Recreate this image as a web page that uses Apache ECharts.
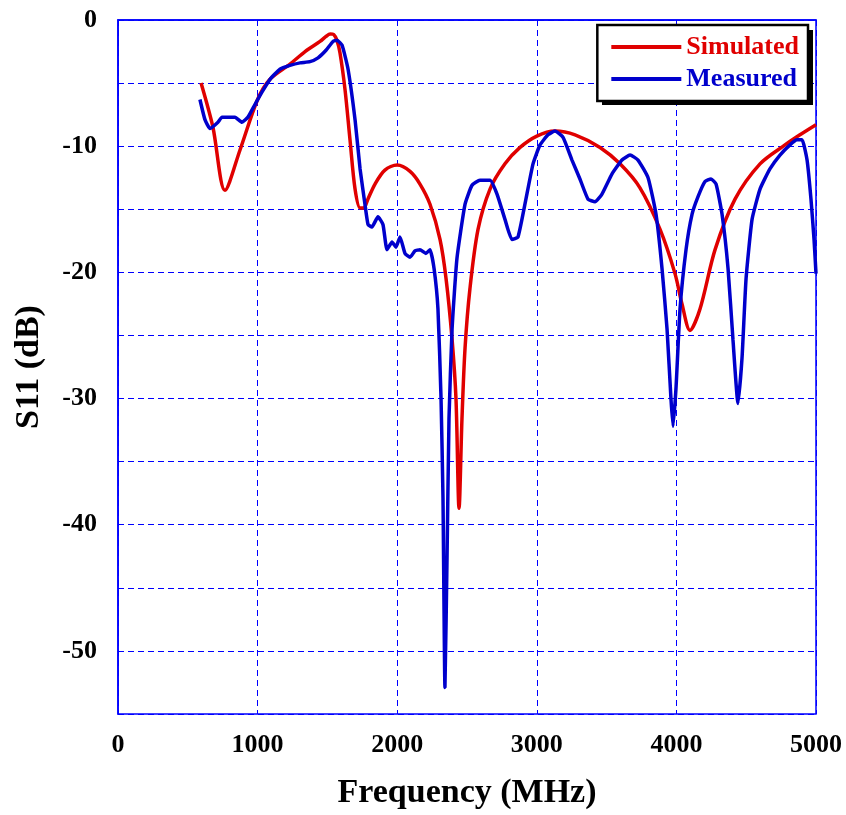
<!DOCTYPE html>
<html><head><meta charset="utf-8">
<script src="https://cdn.jsdelivr.net/npm/echarts@6/dist/echarts.min.js"></script>
<style>html,body{margin:0;padding:0;background:#fff}#c{width:846px;height:815px}</style>
</head><body><div id="c"></div>
<script>
const xTicks = [0, 1000, 2000, 3000, 4000, 5000];
const yTicks = [0, -10, -20, -30, -40, -50];
const simFreq = [595,680,766,874,1000,1089,1232,1340,1447,1490,1520,1545,1568,1590,1626,1662,1698,1734,1760,1790,1841,1912,2000,2092,2163,2235,2307,2350,2393,2421,2443,2464,2486,2521,2579,2665,2772,2880,3000,3130,3274,3453,3596,3739,3883,3990,4040,4097,4169,4277,4420,4599,4778,4885,5000];
const simS11 = [-5.0,-8.5,-13.5,-10.3,-6.3,-4.7,-3.5,-2.5,-1.7,-1.3,-1.1,-1.15,-1.6,-2.6,-5.5,-9.5,-13.4,-14.9,-14.9,-14.2,-13.0,-11.9,-11.5,-12.0,-13.0,-14.6,-17.4,-20.5,-25.3,-30.0,-38.7,-31.6,-26.0,-21.3,-16.6,-13.4,-11.4,-10.1,-9.2,-8.8,-9.1,-10.1,-11.4,-13.3,-16.6,-20.1,-22.5,-24.6,-22.9,-18.2,-14.2,-11.4,-9.9,-9.1,-8.3];
const measFreq = [587,623,659,716,745,788,838,888,931,981,1032,1089,1160,1232,1304,1375,1433,1490,1540,1569,1605,1648,1698,1734,1769,1791,1819,1862,1898,1927,1963,1991,2020,2056,2092,2127,2163,2206,2235,2264,2292,2314,2328,2342,2357,2371,2393,2428,2486,2536,2593,2665,2715,2772,2822,2865,2915,2973,3023,3080,3130,3188,3252,3309,3367,3417,3467,3539,3610,3668,3725,3797,3854,3897,3933,3961,3976,3997,4026,4069,4112,4155,4205,4248,4284,4327,4370,4405,4441,4470,4499,4542,4599,4670,4742,4814,4864,4900,4936,4964,4986,5000];
const measS11 = [-6.3,-7.9,-8.6,-8.1,-7.7,-7.7,-7.7,-8.1,-7.7,-6.7,-5.7,-4.7,-3.9,-3.6,-3.4,-3.3,-3.0,-2.4,-1.7,-1.6,-2.0,-3.9,-7.9,-11.8,-14.6,-16.2,-16.4,-15.6,-16.2,-18.2,-17.6,-18.0,-17.2,-18.5,-18.8,-18.3,-18.2,-18.5,-18.2,-19.7,-22.9,-30.0,-37.9,-52.9,-42.6,-31.6,-24.5,-18.9,-14.6,-13.1,-12.7,-12.7,-13.8,-15.8,-17.4,-17.2,-14.6,-11.4,-9.9,-9.1,-8.8,-9.3,-11.1,-12.6,-14.2,-14.4,-13.8,-12.2,-11.1,-10.7,-11.1,-12.5,-15.4,-19.7,-24.5,-30.0,-32.2,-29.2,-22.9,-18.2,-15.4,-14.0,-12.8,-12.6,-13.0,-15.4,-19.7,-25.3,-30.4,-26.8,-20.5,-15.8,-13.4,-11.8,-10.7,-9.9,-9.5,-9.5,-11.1,-14.2,-17.4,-20.1];

const zip = (a, b) => a.map((v, i) => [v, b[i]]);
const FONT = '"Liberation Serif", "Times New Roman", serif';
const BLUE = '#0000ff';
const chart = echarts.init(document.getElementById('c'));
chart.setOption({
  animation: false,
  backgroundColor: '#fff',
  grid: { left: 118, right: 30, top: 20, bottom: 98, show: true, borderColor: BLUE, borderWidth: 1.5, backgroundColor: 'transparent' },
  graphic: [
    { type: 'rect', z: 50, shape: { x: 602, y: 30, width: 211, height: 75 }, style: { fill: '#000' }, silent: true }
  ],
  legend: {
    right: 38, top: 25, orient: 'vertical', icon: 'rect', itemWidth: 70, itemHeight: 4, itemGap: 6,
    padding: [9, 9, 9, 14], z: 60,
    borderColor: '#000', borderWidth: 2.5, backgroundColor: '#fff',
    textStyle: { fontFamily: FONT, fontWeight: 'bold', fontSize: 26, padding: [0, 0, 0, 0] },
    data: [
      { name: 'Simulated', textStyle: { color: '#e00000' } },
      { name: 'Measured', textStyle: { color: '#0000cc' } }
    ]
  },
  xAxis: {
    type: 'value', min: 0, max: 5000, interval: 1000,
    name: 'Frequency (MHz)', nameLocation: 'middle', nameGap: 62,
    nameTextStyle: { fontFamily: FONT, fontWeight: 'bold', fontSize: 34, color: '#000' },
    axisLine: { show: true, lineStyle: { color: BLUE, width: 1.5 } },
    axisTick: { show: false },
    axisLabel: { fontFamily: FONT, fontWeight: 'bold', fontSize: 26, color: '#000', margin: 18,
      formatter: v => xTicks.includes(v) ? String(v) : '' },
    splitLine: { show: true, lineStyle: { color: BLUE, type: [6, 4], width: 1 } }
  },
  yAxis: {
    type: 'value', min: -55, max: 0, interval: 5,
    name: 'S11 (dB)', nameLocation: 'middle', nameGap: 72, nameRotate: 90,
    nameTextStyle: { fontFamily: FONT, fontWeight: 'bold', fontSize: 34, color: '#000' },
    axisLine: { show: true, lineStyle: { color: BLUE, width: 1.5 } },
    axisTick: { show: false },
    axisLabel: { fontFamily: FONT, fontWeight: 'bold', fontSize: 26, color: '#000', margin: 21,
      formatter: v => yTicks.includes(v) ? String(v) : '' },
    splitLine: { show: true, lineStyle: { color: BLUE, type: [6, 4], width: 1 } }
  },
  series: [
    { name: 'Simulated', type: 'line', data: zip(simFreq, simS11), showSymbol: false, smooth: 0.3,
      lineStyle: { color: '#e00000', width: 3.5 }, itemStyle: { color: '#e00000' }, z: 2 },
    { name: 'Measured', type: 'line', data: zip(measFreq, measS11), showSymbol: false, smooth: 0.15,
      lineStyle: { color: '#0000cc', width: 3.5 }, itemStyle: { color: '#0000cc' }, z: 3 }
  ]
});
</script></body></html>
